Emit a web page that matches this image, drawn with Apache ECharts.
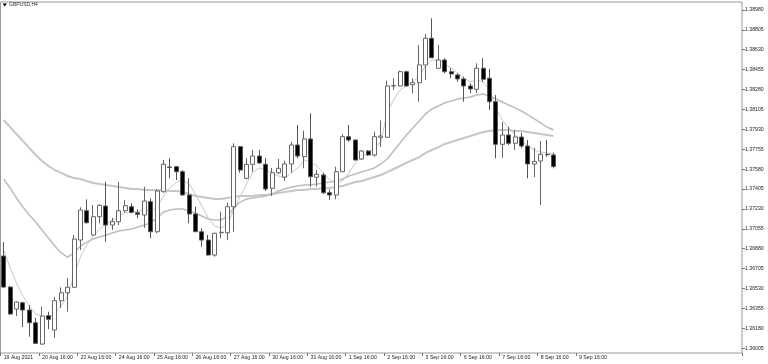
<!DOCTYPE html>
<html><head><meta charset="utf-8">
<script src="https://cdn.jsdelivr.net/npm/echarts@6/dist/echarts.min.js"></script>
<style>html,body{margin:0;padding:0;background:#fff}#c{width:768px;height:364px}</style>
</head><body><div id="c"></div>
<script>
const chartTitle = 'GBPUSD,H4';
const xTickLabels = ['19 Aug 2021','20 Aug 16:00','23 Aug 16:00','24 Aug 16:00','25 Aug 16:00','26 Aug 16:00','27 Aug 16:00','30 Aug 16:00','31 Aug 16:00','1 Sep 16:00','2 Sep 16:00','3 Sep 16:00','6 Sep 16:00','7 Sep 16:00','8 Sep 16:00','9 Sep 16:00'];
const yTickValues = [1.36005,1.36180,1.36355,1.36530,1.36705,1.36880,1.37055,1.37230,1.37405,1.37580,1.37755,1.37930,1.38105,1.38280,1.38455,1.38630,1.38805,1.38980];

const opens = [1.36815,1.36542,1.36349,1.36404,1.36340,1.36228,1.36041,1.36290,1.36164,1.36422,1.36492,1.36540,1.36956,1.37214,1.37000,1.37161,1.37255,1.37088,1.37117,1.37214,1.37249,1.37196,1.37176,1.37293,1.37029,1.37381,1.37598,1.37601,1.37557,1.37352,1.37185,1.37029,1.36956,1.36824,1.37020,1.37020,1.37249,1.37777,1.37499,1.37622,1.37695,1.37622,1.37411,1.37548,1.37510,1.37625,1.37792,1.37689,1.37845,1.37508,1.37528,1.37372,1.37352,1.37557,1.37865,1.37836,1.37669,1.37739,1.37704,1.37860,1.37860,1.38311,1.38311,1.38437,1.38323,1.38340,1.38496,1.38731,1.38467,1.38540,1.38437,1.38408,1.38373,1.38311,1.38282,1.38467,1.38379,1.38173,1.37798,1.37880,1.37807,1.37862,1.37783,1.37625,1.37651,1.37710,1.37704];
const closes = [1.36542,1.36305,1.36410,1.36340,1.36228,1.36047,1.36287,1.36258,1.36422,1.36492,1.36540,1.36965,1.37220,1.37108,1.37161,1.37261,1.37088,1.37117,1.37214,1.37258,1.37200,1.37182,1.37299,1.37029,1.37387,1.37622,1.37594,1.37557,1.37352,1.37185,1.37029,1.36956,1.36824,1.37015,1.37024,1.37249,1.37777,1.37572,1.37622,1.37695,1.37634,1.37405,1.37548,1.37587,1.37625,1.37792,1.37695,1.37845,1.37513,1.37534,1.37372,1.37352,1.37557,1.37865,1.37836,1.37660,1.37739,1.37704,1.37865,1.37871,1.38311,1.38314,1.38437,1.38311,1.38340,1.38496,1.38731,1.38560,1.38540,1.38437,1.38417,1.38373,1.38311,1.38285,1.38467,1.38370,1.38173,1.37798,1.37880,1.37807,1.37862,1.37783,1.37625,1.37647,1.37710,1.37706,1.37603];
const lows = [1.36534,1.36296,1.36287,1.36190,1.36105,1.36044,1.36032,1.36173,1.36094,1.36358,1.36325,1.36534,1.36868,1.37101,1.36996,1.37103,1.36941,1.37044,1.37088,1.37196,1.37191,1.37147,1.37062,1.36971,1.37015,1.37372,1.37499,1.37484,1.37348,1.37103,1.37026,1.36897,1.36820,1.36809,1.36971,1.36956,1.37029,1.37548,1.37490,1.37557,1.37625,1.37387,1.37343,1.37537,1.37478,1.37548,1.37675,1.37587,1.37425,1.37425,1.37361,1.37308,1.37314,1.37554,1.37821,1.37656,1.37660,1.37695,1.37689,1.37774,1.37855,1.38276,1.38307,1.38307,1.38247,1.38173,1.38364,1.38558,1.38465,1.38423,1.38379,1.38349,1.38173,1.38247,1.38247,1.38349,1.38100,1.37675,1.37678,1.37792,1.37748,1.37766,1.37499,1.37510,1.37264,1.37689,1.37587];
const highs = [1.36938,1.36552,1.36419,1.36413,1.36384,1.36270,1.36369,1.36325,1.36457,1.36540,1.36619,1.37000,1.37244,1.37314,1.37264,1.37270,1.37469,1.37150,1.37469,1.37308,1.37279,1.37226,1.37425,1.37323,1.37402,1.37660,1.37675,1.37607,1.37572,1.37499,1.37249,1.37059,1.37000,1.37020,1.37205,1.37284,1.37807,1.37783,1.37675,1.37748,1.37748,1.37678,1.37590,1.37669,1.37654,1.37821,1.37968,1.37918,1.38071,1.37572,1.37548,1.37402,1.37601,1.37889,1.37968,1.37842,1.37748,1.37748,1.37909,1.38008,1.38358,1.38379,1.38446,1.38446,1.38379,1.38672,1.38769,1.38907,1.38672,1.38555,1.38467,1.38423,1.38393,1.38335,1.38511,1.38555,1.38461,1.38232,1.37994,1.37953,1.37924,1.37900,1.37836,1.37766,1.37827,1.37836,1.37726];

const maFast = [1.36868,1.36710,1.36578,1.36463,1.36375,1.36305,1.36287,1.36278,1.36314,1.36375,1.36463,1.36648,1.36806,1.36912,1.36991,1.37053,1.37097,1.37132,1.37167,1.37194,1.37202,1.37211,1.37220,1.37202,1.37246,1.37343,1.37414,1.37466,1.37484,1.37449,1.37361,1.37255,1.37150,1.37079,1.37062,1.37097,1.37220,1.37343,1.37449,1.37554,1.37590,1.37572,1.37546,1.37519,1.37502,1.37546,1.37590,1.37660,1.37642,1.37607,1.37546,1.37484,1.37449,1.37475,1.37546,1.37634,1.37686,1.37730,1.37766,1.37818,1.38082,1.38188,1.38276,1.38311,1.38346,1.38399,1.38487,1.38540,1.38540,1.38505,1.38470,1.38426,1.38382,1.38346,1.38364,1.38346,1.38276,1.38118,1.38012,1.37942,1.37880,1.37836,1.37783,1.37748,1.37730,1.37722,1.37713];
const maMedium = [1.37493,1.37414,1.37326,1.37246,1.37176,1.37114,1.37044,1.36974,1.36903,1.36842,1.36806,1.36842,1.36903,1.36938,1.36965,1.36982,1.37000,1.37018,1.37035,1.37044,1.37053,1.37070,1.37088,1.37106,1.37150,1.37202,1.37220,1.37229,1.37229,1.37211,1.37194,1.37167,1.37141,1.37132,1.37132,1.37167,1.37238,1.37290,1.37317,1.37326,1.37334,1.37343,1.37361,1.37387,1.37405,1.37422,1.37431,1.37440,1.37440,1.37449,1.37458,1.37466,1.37475,1.37493,1.37519,1.37537,1.37554,1.37572,1.37590,1.37625,1.37669,1.37739,1.37810,1.37880,1.37942,1.38003,1.38065,1.38109,1.38135,1.38162,1.38179,1.38197,1.38206,1.38214,1.38232,1.38241,1.38223,1.38197,1.38170,1.38144,1.38118,1.38091,1.38056,1.38021,1.37986,1.37950,1.37924];
const maSlow = [1.38012,1.37950,1.37889,1.37827,1.37766,1.37704,1.37651,1.37607,1.37572,1.37546,1.37519,1.37502,1.37493,1.37475,1.37458,1.37449,1.37440,1.37431,1.37422,1.37414,1.37405,1.37405,1.37396,1.37396,1.37396,1.37396,1.37387,1.37387,1.37378,1.37361,1.37343,1.37334,1.37326,1.37317,1.37317,1.37326,1.37334,1.37343,1.37343,1.37343,1.37352,1.37352,1.37361,1.37370,1.37378,1.37387,1.37396,1.37396,1.37405,1.37405,1.37414,1.37414,1.37422,1.37431,1.37449,1.37466,1.37475,1.37493,1.37510,1.37528,1.37554,1.37581,1.37607,1.37634,1.37660,1.37686,1.37722,1.37748,1.37774,1.37801,1.37818,1.37836,1.37854,1.37871,1.37889,1.37906,1.37915,1.37924,1.37924,1.37924,1.37915,1.37915,1.37906,1.37898,1.37889,1.37880,1.37871];

const TOTAL_SLOTS = 116;
const TICK_EVERY = 6;
const monthNames = ['Jan','Feb','Mar','Apr','May','Jun','Jul','Aug','Sep','Oct','Nov','Dec'];
const categories = [];
(function () {
  let t = Date.UTC(2021, 7, 19, 16);
  for (let i = 0; i < TOTAL_SLOTS; i++) {
    const d = new Date(t);
    categories.push(d.getUTCDate() + ' ' + monthNames[d.getUTCMonth()] + ' ' + String(d.getUTCHours()).padStart(2, '0') + ':00');
    t += 4 * 3600e3;
    if (new Date(t).getUTCDay() === 6) t += 2 * 86400e3;
  }
})();

const candleData = opens.map((o, i) => [o, closes[i], lows[i], highs[i]]);
const FONT = '"Liberation Sans", Arial, sans-serif';
const showTick = (idx) => idx % TICK_EVERY === 0 && idx / TICK_EVERY < xTickLabels.length;

const chart = echarts.init(document.getElementById('c'), null, {renderer: 'canvas'});
chart.setOption({
  animation: false,
  backgroundColor: '#ffffff',
  graphic: [
    {type: 'polygon', shape: {points: [[2.5, 3.5], [7, 3.5], [4.75, 6.5]]}, style: {fill: '#000'}},
    {type: 'text', x: 9, y: 5, style: {text: chartTitle, fontSize: 5, fontFamily: FONT, fill: '#333', verticalAlign: 'middle'}}
  ],
  grid: {left: 0.5, right: 26, top: 2, bottom: 11, show: true, borderColor: '#9a9a9a', borderWidth: 1, backgroundColor: 'transparent'},
  xAxis: {
    type: 'category', data: categories, boundaryGap: true,
    axisLine: {show: false},
    axisTick: {show: true, length: 3, interval: (i) => showTick(i), lineStyle: {color: '#777'}},
    axisLabel: {
      show: true, interval: (i) => showTick(i), align: 'left', margin: 2,
      fontSize: 5.2, fontFamily: FONT, color: '#222',
      formatter: (v, i) => showTick(i) ? xTickLabels[i / TICK_EVERY] : ''
    },
    splitLine: {show: false}
  },
  yAxis: {
    type: 'value', position: 'right', min: 1.35962, max: 1.39050, scale: true,
    axisLine: {show: false},
    axisTick: {show: true, length: 3, customValues: yTickValues, lineStyle: {color: '#777'}},
    axisLabel: {show: true, customValues: yTickValues, margin: 3, fontSize: 5.2, fontFamily: FONT, color: '#222',
      formatter: (v) => v.toFixed(5)},
    splitLine: {show: false}
  },
  series: [
    {type: 'line', name: 'slow', data: maSlow, showSymbol: false, smooth: false, z: 1,
      lineStyle: {color: '#c6c6c6', width: 2}},
    {type: 'line', name: 'medium', data: maMedium, showSymbol: false, smooth: false, z: 1,
      lineStyle: {color: '#bdbdbd', width: 1.5}},
    {type: 'line', name: 'fast', data: maFast, showSymbol: false, smooth: false, z: 1,
      lineStyle: {color: '#c8c8c8', width: 1}},
    {type: 'candlestick', name: chartTitle, data: candleData, barWidth: 4.5, z: 3,
      itemStyle: {color: '#ffffff', color0: '#000000', borderColor: '#666666', borderColor0: '#555555', borderWidth: 1}}
  ]
});
</script>
</body></html>
